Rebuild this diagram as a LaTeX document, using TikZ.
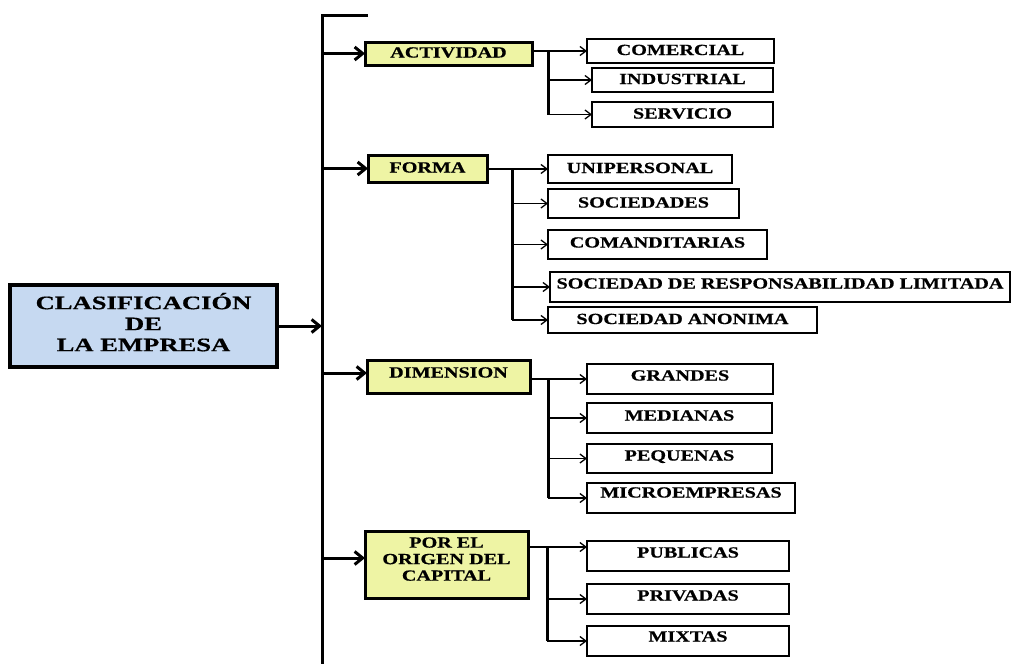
\documentclass[tikz,border=0pt]{standalone}
\usepackage{fontspec}
\usepackage{tikz}
\usetikzlibrary{arrows.meta}

\newfontfamily\boxfont{Liberation Serif}[FakeStretch=1.3, BoldFeatures={FakeBold=0.6}]
\newfontfamily\titlefont{Liberation Serif}[FakeStretch=1.4, BoldFeatures={FakeBold=0.6}]
\definecolor{titleblue}{HTML}{C6D9F1}
\definecolor{catgreen}{HTML}{EEF4A4}

\tikzset{
  boxbase/.style={draw=black, rectangle, anchor=north west, inner sep=0pt, outer sep=0pt,
    font=\boxfont\bfseries\fontsize{15.5}{16.5}\selectfont},
  oneline/.style={text height=11pt, text depth=3pt},
  titlebox/.style={boxbase, fill=titleblue, line width=3.2pt, align=center,
    font=\titlefont\bfseries\fontsize{19}{21}\selectfont},
  catbox/.style={boxbase, fill=catgreen, line width=3pt},
  leafbox/.style={boxbase, oneline, fill=white, line width=2.9pt},
  bigarrow/.style={-{Straight Barb[length=8pt,width=13pt]}, line width=3pt},
  thinarrow/.style={-{Straight Barb[length=6pt,width=9pt]}, line width=1.3pt},
  trunk/.style={line width=3pt},
}

\begin{document}
\begin{tikzpicture}[x=1pt, y=-1pt]
\useasboundingbox (0,0) rectangle (1014,664);

% main box and spine
\node[titlebox, minimum width=267pt, minimum height=82pt] (main) at (10,285)
  {CLASIFICACIÓN\\DE\\LA EMPRESA\rule[-8pt]{0pt}{8pt}};
\coordinate (stub) at (368,15);
\coordinate (top) at (322,15);
\coordinate (bottom) at (322,664);
\draw[trunk] (stub) -- (top) -- (bottom);
\draw[bigarrow] (main.east) -- (main.east -| top);

% categories
\node[catbox, oneline, minimum width=167pt, minimum height=23pt] (act) at (365,42) {ACTIVIDAD};
\node[catbox, oneline, minimum width=119pt, minimum height=27pt] (forma) at (368,155) {FORMA};
\node[catbox, oneline, text depth=9pt, minimum width=163pt, minimum height=33pt] (dim) at (367,360) {DIMENSION};
\node[catbox, align=center, minimum width=163pt, minimum height=67pt] (ori) at (365,531)
  {POR EL\\ORIGEN DEL\\CAPITAL\rule[-11pt]{0pt}{11pt}};

\draw[bigarrow] (act.west -| top) -- (act.west);
\draw[bigarrow] (forma.west -| top) -- (forma.west);
\draw[bigarrow] ([yshift=3.5pt]dim.west -| top) -- ([yshift=3.5pt]dim.west);
\draw[bigarrow] ([yshift=6.5pt]ori.west -| top) -- ([yshift=6.5pt]ori.west);

% actividad
\node[leafbox, minimum width=187pt, minimum height=24pt] (com) at (587,39) {COMERCIAL};
\node[leafbox, minimum width=181pt, minimum height=24pt] (ind) at (592,68) {INDUSTRIAL};
\node[leafbox, minimum width=181pt, minimum height=25pt] (ser) at (592,102) {SERVICIO};
\coordinate (actj) at (548,52);
\draw[thinarrow] (act.east |- com.west) -- (com.west);
\draw[trunk] (actj |- com.west) -- (actj |- ser.west);
\draw[thinarrow] (actj |- ind.west) -- (ind.west);
\draw[thinarrow] (actj |- ser.west) -- (ser.west);

% forma
\node[leafbox, minimum width=184pt, minimum height=28pt] (uni) at (548,155) {UNIPERSONAL};
\node[leafbox, minimum width=191pt, minimum height=29pt] (soc) at (548,189) {SOCIEDADES};
\node[leafbox, text depth=5pt, minimum width=219pt, minimum height=29pt] (cmd) at (548,230) {COMANDITARIAS};
\node[leafbox, text depth=8pt, minimum width=460pt, minimum height=30pt] (srl) at (550,272) {SOCIEDAD DE RESPONSABILIDAD LIMITADA};
\node[leafbox, minimum width=269pt, minimum height=26pt] (sa) at (548,307) {SOCIEDAD ANONIMA};
\coordinate (formj) at (512,169);
\draw[thinarrow] (forma.east |- uni.west) -- (uni.west);
\draw[trunk] (formj |- uni.west) -- (formj |- sa.west);
\draw[thinarrow] (formj |- soc.west) -- (soc.west);
\draw[thinarrow] (formj |- cmd.west) -- (cmd.west);
\draw[thinarrow] (formj |- srl.west) -- (srl.west);
\draw[thinarrow] (formj |- sa.west) -- (sa.west);

% dimension
\node[leafbox, text depth=8pt, minimum width=186pt, minimum height=30pt] (gra) at (587,364) {GRANDES};
\node[leafbox, text depth=6pt, minimum width=185pt, minimum height=30pt] (med) at (587,403) {MEDIANAS};
\node[leafbox, text depth=7pt, minimum width=185pt, minimum height=29pt] (peq) at (587,444) {PEQUENAS};
\node[leafbox, text depth=12pt, minimum width=208pt, minimum height=30pt] (mic) at (587,483) {MICROEMPRESAS};
\coordinate (dimj) at (548,379);
\draw[thinarrow] (dim.east |- gra.west) -- (gra.west);
\draw[trunk] (dimj |- gra.west) -- (dimj |- mic.west);
\draw[thinarrow] (dimj |- med.west) -- (med.west);
\draw[thinarrow] (dimj |- peq.west) -- (peq.west);
\draw[thinarrow] (dimj |- mic.west) -- (mic.west);

% origen del capital
\node[leafbox, text depth=8pt, minimum width=202pt, minimum height=30pt] (pub) at (587,541) {PUBLICAS};
\node[leafbox, text depth=8pt, minimum width=202pt, minimum height=30pt] (pri) at (587,584) {PRIVADAS};
\node[leafbox, text depth=10pt, minimum width=202pt, minimum height=30pt] (mix) at (587,626) {MIXTAS};
\coordinate (orij) at (547,547);
\draw[thinarrow] (ori.east |- orij) -- (orij -| pub.west);
\draw[trunk] (orij) -- (orij |- mix.west);
\draw[thinarrow] (orij |- pri.west) -- (pri.west);
\draw[thinarrow] (orij |- mix.west) -- (mix.west);
\end{tikzpicture}
\end{document}
